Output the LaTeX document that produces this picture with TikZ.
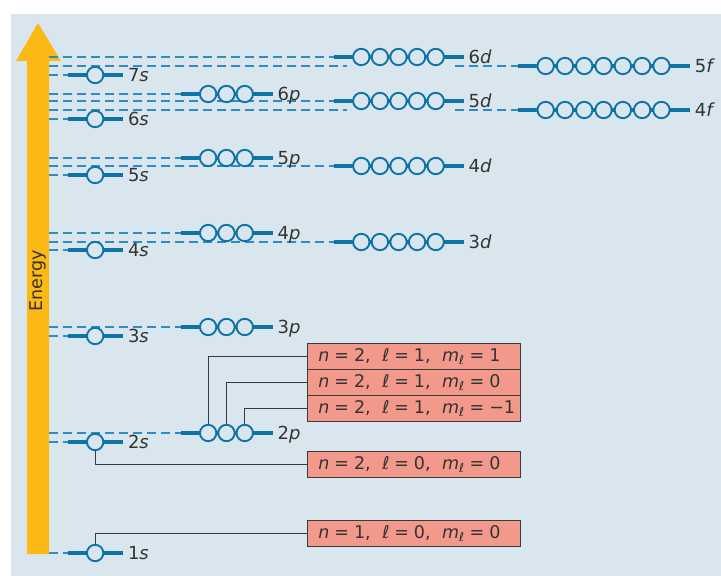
\documentclass[tikz,border=0pt]{standalone}
\usepackage{fontspec}
\setmainfont{DejaVu Sans}
\definecolor{bgc}{HTML}{DAE6EE}
\definecolor{orb}{HTML}{0E74A8}
\definecolor{dashc}{HTML}{2E8CC4}
\definecolor{arrc}{HTML}{FDB913}
\definecolor{boxf}{HTML}{F2998B}
\definecolor{boxd}{HTML}{3A3A3A}
\definecolor{txt}{HTML}{333333}
\newcommand{\qeq}{\hspace{0.28em}=\hspace{0.28em}}
\newcommand{\qcm}{,\hspace{0.66em}}
\newcommand{\qnums}[3]{\mbox{\textit{n}\qeq#1\qcm\textit{ℓ}\qeq#2\qcm\textit{m}\textsubscript{\textit{ℓ}}\qeq#3}}
\begin{document}
\begin{tikzpicture}[x=1bp,y=-1bp,
  dashline/.style={draw=dashc,line width=1.1bp,dash pattern=on 9bp off 5bp},
  barline/.style={draw=orb,line width=4bp},
  orbc/.style={circle,draw=orb,line width=1.9bp,fill=bgc,minimum size=16.4bp,inner sep=0pt},
  lbl/.style={anchor=base west,inner sep=0pt,text=txt,font=\fontsize{18bp}{21bp}\selectfont},
  qbox/.style={anchor=north west,draw=boxd,fill=boxf,line width=0.9bp,text width=191bp,inner xsep=11bp,inner ysep=0pt,minimum height=26bp,align=left,text=txt,font=\fontsize{17.5bp}{21bp}\selectfont},
  conn/.style={draw=boxd,line width=1.1bp}]
\useasboundingbox (0,0) rectangle (721,576);
\fill[bgc] (11,14) rectangle (721,576);
% energy arrow
\fill[arrc] (27,554) -- (27,61) -- (16,61) -- (38,23) -- (61,61) -- (49,61) -- (49,554) -- cycle;
\node[rotate=90,anchor=base,inner sep=0pt,text=txt,font=\fontsize{17.5bp}{20bp}\selectfont] (energy) at (42,281) {Energy};
\coordinate (ax) at (49,0);
% level definitions: name/y/x0/n/spacing/number/letter
\def\levels{1s/553/68/1/18.3/1/s, 2s/442/68/1/18.3/2/s, 3s/336/68/1/18.3/3/s, 4s/250/68/1/18.3/4/s, 5s/175/68/1/18.3/5/s, 6s/119/68/1/18.3/6/s, 7s/75/68/1/18.3/7/s,
  2p/433/181/3/18.3/2/p, 3p/327/181/3/18.3/3/p, 4p/233/181/3/18.3/4/p, 5p/158/181/3/18.3/5/p, 6p/94/181/3/18.3/6/p,
  3d/242/334/5/18.6/3/d, 4d/166/334/5/18.6/4/d, 5d/101/334/5/18.6/5/d, 6d/57/334/5/18.6/6/d,
  4f/110/518/7/19.3/4/f, 5f/66/518/7/19.3/5/f}
\foreach \nm/\yy/\xx/\nn/\gp/\qn/\ql in \levels {\coordinate (\nm-in) at (\xx,\yy);}
% dashed guide lines
\foreach \nm in {1s,2s,3s,4s,5s,6s,7s,2p,3p,4p,5p,6p,3d,4d,5d,6d}
  \draw[dashline] (ax |- \nm-in) -- (\nm-in);
\coordinate (g4a) at (347,110); \coordinate (g4b) at (455,110);
\coordinate (g5a) at (347,66); \coordinate (g5b) at (455,66);
\draw[dashline] (ax |- 4f-in) -- (g4a);
\draw[dashline] (g4b) -- (4f-in);
\draw[dashline] (ax |- 5f-in) -- (g5a);
\draw[dashline] (g5b) -- (5f-in);
% quantum-number boxes
\node[qbox] (b1) at (307,343) {\qnums{2}{1}{1}};
\node[qbox] (b2) at (307,369) {\qnums{2}{1}{0}};
\node[qbox] (b3) at (307,395) {\qnums{2}{1}{−1}};
\node[qbox] (b4) at (307,451) {\qnums{2}{0}{0}};
\node[qbox] (b5) at (307,520) {\qnums{1}{0}{0}};
% orbitals
\foreach \nm/\yy/\xx/\nn/\gp/\qn/\ql in \levels {
  \coordinate (\nm-out) at ({\xx+37+\nn*\gp},\yy);
  \draw[barline] (\nm-in) -- (\nm-out);
  \foreach \k in {1,...,\nn}
    \node[orbc] (\nm-\k) at ({\xx+18+(\k-0.5)*\gp},\yy) {};
  \node[lbl] (\nm-lab) at ([xshift=4.5bp,yshift=-6.5bp]\nm-out) {\qn\textit{\ql}};
}
\draw[conn] (b1.west) -| (2p-1.north);
\draw[conn] (b2.west) -| (2p-2.north);
\draw[conn] (b3.west) -| (2p-3.north);
\draw[conn] (b4.west) -| (2s-1.south);
\draw[conn] (b5.west) -| (1s-1.north);
\end{tikzpicture}
\end{document}
